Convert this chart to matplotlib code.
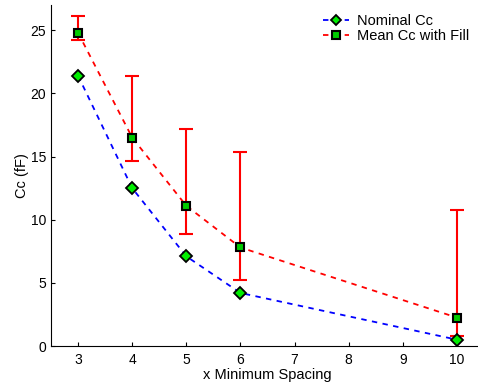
import matplotlib
matplotlib.use("Agg")
import matplotlib.pyplot as plt
import numpy as np

plt.rcParams['font.family'] = ['Liberation Sans', 'DejaVu Sans']

spacing = [3, 4, 5, 6, 10]
nominal_cc = [21.4, 12.5, 7.1, 4.2, 0.5]
mean_cc = [24.8, 16.5, 11.1, 7.8, 2.25]
err_low = [24.2, 14.65, 8.85, 5.25, 0.8]
err_high = [26.1, 21.4, 17.2, 15.4, 10.8]
xticks = [3, 4, 5, 6, 7, 8, 9, 10]
yticks = [0, 5, 10, 15, 20, 25]

fig = plt.figure(figsize=(4.78, 3.9), dpi=100)
ax = fig.add_axes([51/478, 44/390, 433/478, 341/390])

x = np.array(spacing)
m = np.array(mean_cc)
lo = m - np.array(err_low)
hi = np.array(err_high) - m

ax.plot(x, nominal_cc, linestyle=(0, (3, 3)), color='blue', lw=1.3,
        marker='D', markersize=6, markerfacecolor='#00ee00', markeredgecolor='black',
        markeredgewidth=1.3, label='Nominal Cc', zorder=3)
ax.errorbar(x, m, yerr=[lo, hi], fmt='none', ecolor='red', elinewidth=1.5,
            capsize=5, capthick=1.5, zorder=2)
ax.plot(x, m, linestyle=(0, (3, 3)), color='red', lw=1.3,
        marker='s', markersize=6, markerfacecolor='#00cc00', markeredgecolor='black',
        markeredgewidth=1.5, label='Mean Cc with Fill', zorder=3)

ax.set_xlim(2.5, 10.5)
ax.set_ylim(0, 27)
ax.set_xticks(xticks)
ax.set_yticks(yticks)
ax.tick_params(direction='in', labelsize=10, length=3, width=0.8)
ax.tick_params(axis='x', pad=5)
for s in ['top', 'right']:
    ax.spines[s].set_visible(False)
ax.set_xlabel('x Minimum Spacing', fontsize=10.5, labelpad=1)
ax.set_ylabel('Cc (fF)', fontsize=10.5, labelpad=1)

ax.legend(loc='upper right', bbox_to_anchor=(0.985, 1.0), frameon=False, fontsize=10.5,
          handlelength=1.8, handletextpad=0.5, labelspacing=0.1, borderaxespad=0.2,
          markerscale=0.85)

fig.savefig('out.png', dpi=100)
